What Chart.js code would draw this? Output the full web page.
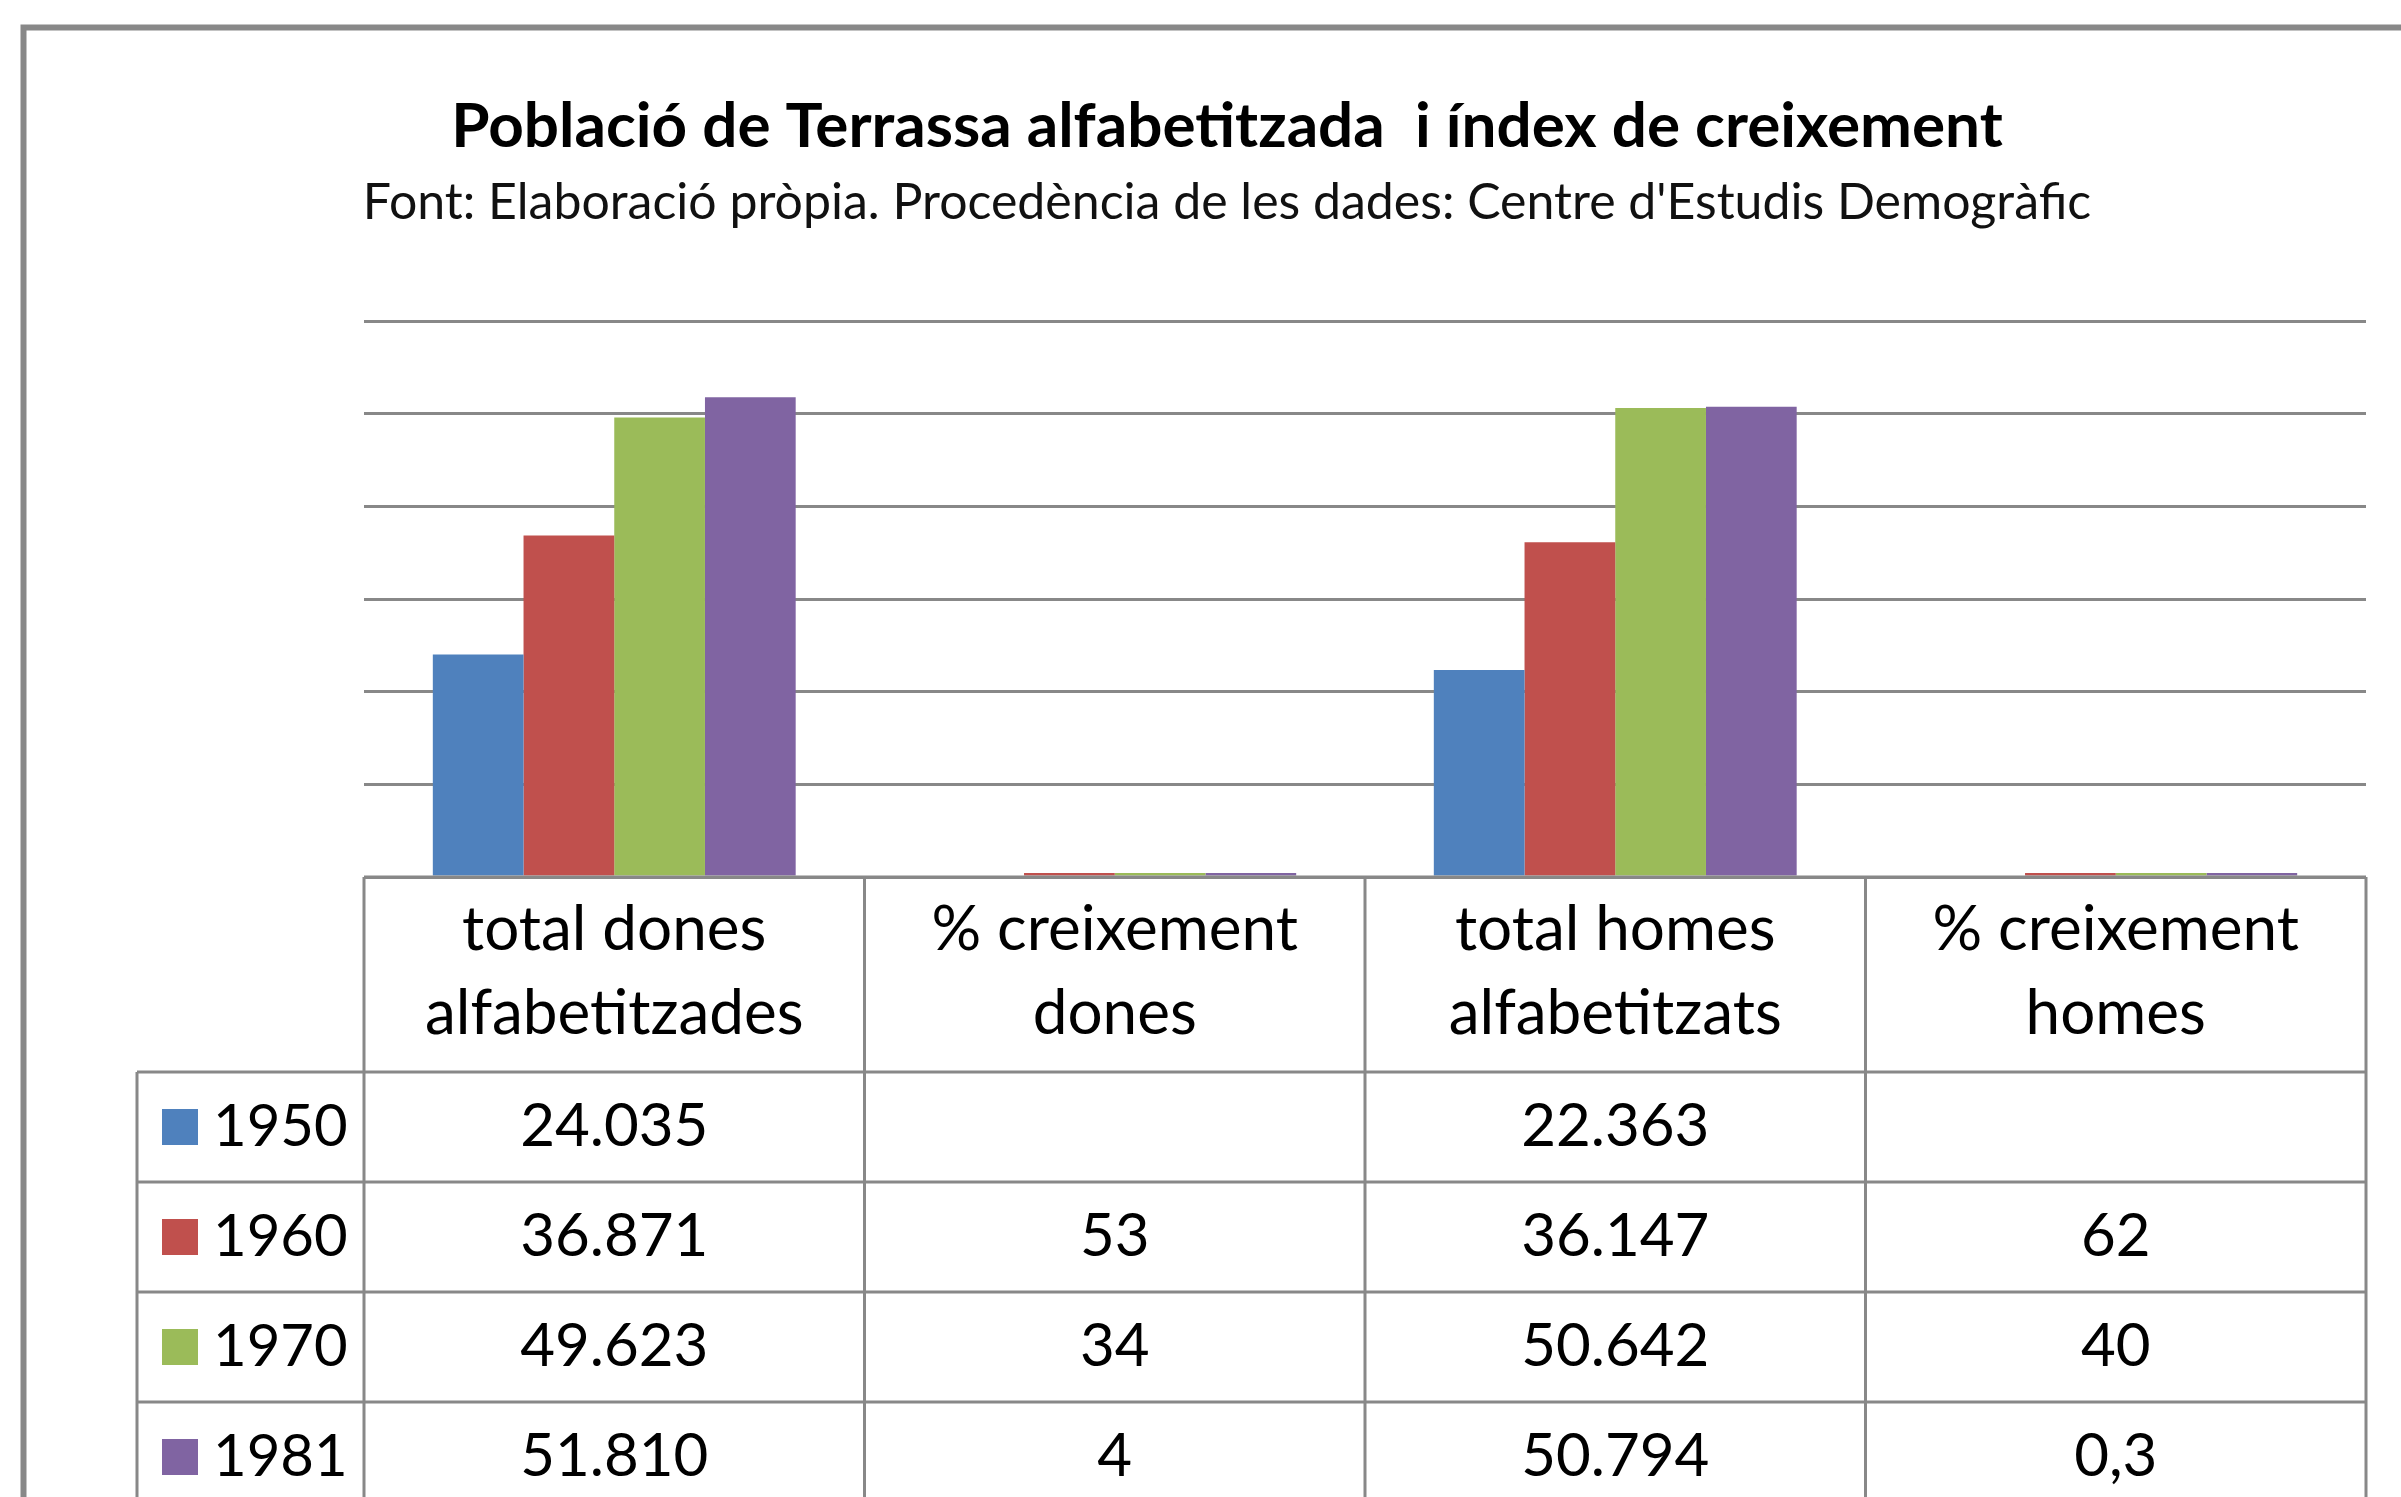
<!DOCTYPE html>
<html lang="ca">
<head>
    <meta charset="UTF-8">
    <title>Població de Terrassa alfabetitzada</title>
    <script src="https://cdn.jsdelivr.net/npm/chart.js"></script>
    <style>
        body { margin: 0; background: #fff; }
        #chart-container { width: 2401px; height: 1497px; }
    </style>
</head>
<body>
    <div id="chart-container">
        <canvas id="alfaChart"></canvas>
    </div>
    <script>
        // column headers (one per category, two lines each)
        const categories = [
            ["total dones", "alfabetitzades"],
            ["% creixement", "dones"],
            ["total homes", "alfabetitzats"],
            ["% creixement", "homes"]
        ];
        const years = ["1950", "1960", "1970", "1981"];
        const values1950 = [24035, null, 22363, null];
        const values1960 = [36871, 53, 36147, 62];
        const values1970 = [49623, 34, 50642, 40];
        const values1981 = [51810, 4, 50794, 0.3];
        const colors = ["#4F81BD", "#C0504D", "#9BBB59", "#8064A2"];

        const series = [values1950, values1960, values1970, values1981];
        const lineColor = "#888";
        const font = "Lato";

        // catalan style: 24.035 / 0,3
        function fmt(v) {
            if (v === null || v === undefined) return "";
            let parts = String(v).split(".");
            parts[0] = parts[0].replace(/\B(?=(\d{3})+(?!\d))/g, ".");
            return parts.join(",");
        }

        const frame = {
            id: "frame",
            beforeDraw(chart) {
                const ctx = chart.ctx;
                ctx.save();
                ctx.fillStyle = "#fff";
                ctx.fillRect(0, 0, chart.width, chart.height);
                ctx.strokeStyle = lineColor;
                ctx.lineWidth = 6;
                ctx.beginPath();
                ctx.moveTo(23.5, chart.height);
                ctx.lineTo(23.5, 27.5);
                ctx.lineTo(chart.width, 27.5);
                ctx.stroke();
                ctx.restore();
            }
        };

        const dataTable = {
            id: "dataTable",
            afterDraw(chart) {
                const ctx = chart.ctx;
                const area = chart.chartArea;
                const colW = (area.right - area.left) / categories.length;
                const headH = 195, rowH = 110, legendLeft = 137;
                const headBottom = area.bottom + headH;
                ctx.save();
                ctx.strokeStyle = lineColor;
                ctx.lineWidth = 3;
                ctx.beginPath();
                ctx.moveTo(area.left, area.bottom);
                ctx.lineTo(area.right, area.bottom);
                for (let r = 0; r <= years.length; r++) {
                    const y = headBottom + r * rowH;
                    ctx.moveTo(legendLeft, y);
                    ctx.lineTo(area.right, y);
                }
                ctx.moveTo(legendLeft, headBottom);
                ctx.lineTo(legendLeft, chart.height);
                for (let c = 0; c <= categories.length; c++) {
                    const x = area.left + c * colW;
                    ctx.moveTo(x, area.bottom);
                    ctx.lineTo(x, chart.height);
                }
                ctx.stroke();

                ctx.fillStyle = "#000";
                ctx.font = "62px " + font;
                ctx.textAlign = "center";
                ctx.textBaseline = "middle";
                categories.forEach((lines, c) => {
                    const cx = chart.scales.x.getPixelForValue(c);
                    ctx.fillText(lines[0], cx, area.bottom + 53);
                    ctx.fillText(lines[1], cx, area.bottom + 137);
                });
                years.forEach((yr, r) => {
                    const cy = headBottom + r * rowH + rowH / 2;
                    ctx.fillStyle = colors[r];
                    ctx.fillRect(162, cy - 18, 36, 36);
                    ctx.fillStyle = "#000";
                    ctx.font = "58px " + font;
                    ctx.textAlign = "left";
                    ctx.fillText(yr, 213, cy);
                    ctx.font = "60px " + font;
                    ctx.textAlign = "center";
                    series[r].forEach((v, c) => {
                        ctx.fillText(fmt(v), chart.scales.x.getPixelForValue(c), cy);
                    });
                });
                ctx.restore();
            }
        };

        new Chart(document.getElementById("alfaChart"), {
            type: "bar",
            data: {
                labels: categories,
                datasets: years.map((yr, i) => ({
                    label: yr,
                    data: series[i],
                    backgroundColor: colors[i],
                    borderWidth: 0,
                    barPercentage: 1,
                    categoryPercentage: 0.725,
                    minBarLength: 4
                }))
            },
            options: {
                responsive: true,
                maintainAspectRatio: false,
                animation: false,
                layout: { padding: { left: 88, right: 35, top: 0, bottom: 620 } },
                plugins: {
                    legend: { display: false },
                    tooltip: { enabled: false },
                    title: {
                        display: true,
                        text: "Població de Terrassa alfabetitzada  i índex de creixement",
                        color: "#000",
                        font: { family: font, size: 62, weight: "bold" },
                        padding: { top: 90, bottom: 0 }
                    },
                    subtitle: {
                        display: true,
                        text: "Font: Elaboració pròpia. Procedència de les dades: Centre d'Estudis Demogràfic",
                        color: "#111",
                        font: { family: font, size: 50 },
                        padding: { top: 8, bottom: 89 }
                    }
                },
                scales: {
                    x: { display: false },
                    y: {
                        min: 0,
                        max: 60000,
                        ticks: { display: false, stepSize: 10000 },
                        grid: { color: lineColor, lineWidth: 3, drawTicks: false },
                        border: { display: false },
                        afterFit(scale) { scale.width = 276; }
                    }
                }
            },
            plugins: [frame, dataTable]
        });
    </script>
</body>
</html>
